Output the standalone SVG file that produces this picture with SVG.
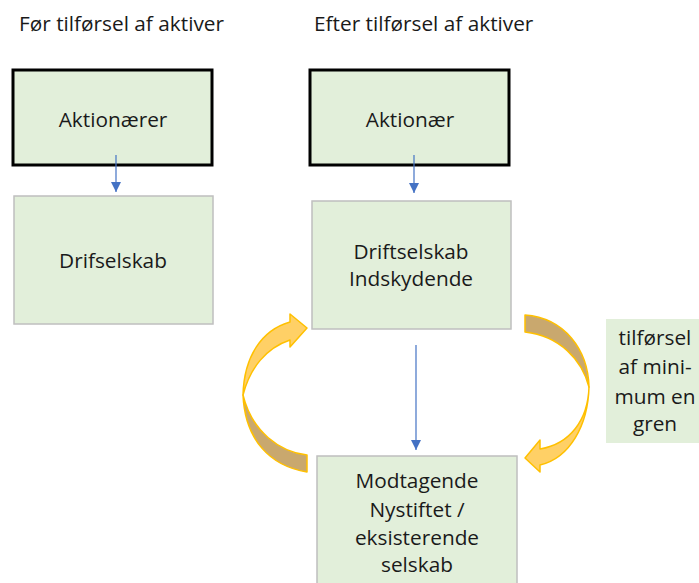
<svg xmlns="http://www.w3.org/2000/svg" width="699" height="583" viewBox="0 0 699 583">
  <style>
    .t { font-family: "Open Sans", "Liberation Sans", sans-serif; font-size: 20.8px; fill: #1a1a1a; }
    .c { text-anchor: middle; }
    .owner { fill: #E2EFDA; stroke: #000; stroke-width: 3; }
    .co { fill: #E2EFDA; stroke: #BFBFBF; stroke-width: 1.5; }
    .link { stroke: #4472C4; stroke-width: 1.2; fill: none; marker-end: url(#tri); }
    .light { fill: #FFD066; stroke: #FFC000; stroke-width: 1.5; stroke-linejoin: round; }
    .dark { fill: #C9A86E; stroke: #FFC000; stroke-width: 1.5; stroke-linejoin: round; }
  </style>
  <defs>
    <marker id="tri" viewBox="0 0 10 10" refX="10" refY="5" markerWidth="10" markerHeight="10" markerUnits="userSpaceOnUse" orient="auto">
      <path d="M0,0 L10,5 L0,10 Z" fill="#4472C4"/>
    </marker>
  </defs>

  <!-- headings -->
  <text class="t" x="19" y="31">Før tilførsel af aktiver</text>
  <text class="t" x="314" y="31">Efter tilførsel af aktiver</text>

  <!-- before -->
  <g id="aktionaerer">
    <rect class="owner" x="13" y="70" width="199" height="95"/>
    <text class="t c" x="113" y="127">Aktionærer</text>
  </g>
  <g id="drifselskab">
    <rect class="co" x="14" y="196" width="199" height="128"/>
    <text class="t c" x="113" y="268">Drifselskab</text>
  </g>

  <!-- after -->
  <g id="aktionaer">
    <rect class="owner" x="310" y="70" width="199" height="95"/>
    <text class="t c" x="410" y="127">Aktionær</text>
  </g>
  <g id="driftselskab">
    <rect class="co" x="312" y="201" width="199" height="128"/>
    <text class="t c" x="411" y="259">Driftselskab</text>
    <text class="t c" x="411" y="286">Indskydende</text>
  </g>
  <g id="modtagende">
    <rect class="co" x="317" y="456" width="200" height="140"/>
    <text class="t c" x="417" y="488">Modtagende</text>
    <text class="t c" x="417" y="517">Nystiftet /</text>
    <text class="t c" x="417" y="545">eksisterende</text>
    <text class="t c" x="417" y="572">selskab</text>
  </g>
  <g id="label">
    <rect x="606" y="319" width="93" height="124" fill="#E2EFDA"/>
    <text class="t c" x="655" y="345">tilførsel</text>
    <text class="t c" x="655" y="374">af mini-</text>
    <text class="t c" x="655" y="404">mum en</text>
    <text class="t c" x="655" y="431">gren</text>
  </g>

  <!-- connectors -->
  <g id="connectors">
    <line class="link" x1="116" y1="155" x2="116" y2="192"/>
    <line class="link" x1="414" y1="155" x2="414" y2="193"/>
    <line class="link" x1="416" y1="345" x2="416" y2="450"/>

    <!-- curved arrow, left side -->
    <path class="dark" d="M243,395 C245,440 270,466 307,472 L307,455 C280,452 252,432 243,395 Z"/>
    <path class="light" d="M243,395 C244,356 262,330 290,322 L290,314 L307,328 L290,347 L290,340 C266,348 250,368 243,395 Z"/>

    <!-- curved arrow, right side -->
    <path class="dark" d="M525,315 C565,318 588,350 589,387 C582,360 560,336 525,332 Z"/>
    <path class="light" d="M589,387 C588,420 570,444 540,449 L540,440 L525,458 L540,472 L540,465 C570,458 588,425 589,387 Z"/>
  </g>
</svg>
